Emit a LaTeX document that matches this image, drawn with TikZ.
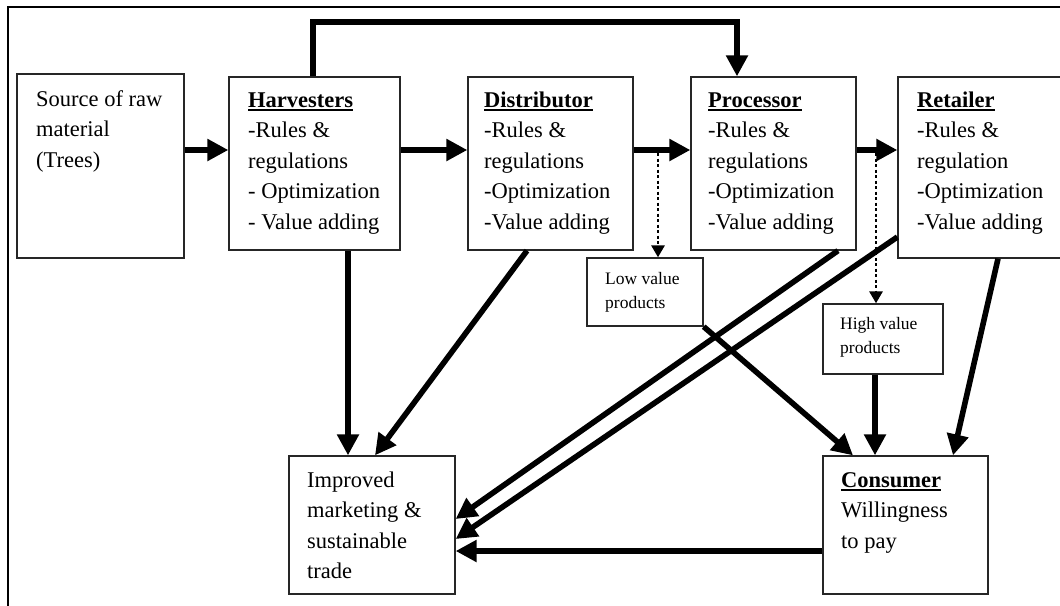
\documentclass[tikz,border=0pt]{standalone}
\usepackage{fontspec}
\setmainfont{Liberation Serif}
\usetikzlibrary{arrows.meta,fit}
\newcommand\myul[1]{\setbox0\hbox{#1}\rlap{\rule[-3.4pt]{\wd0}{1.8pt}}\box0}
\begin{document}
\begin{tikzpicture}[x=1pt,y=-1pt,
  box/.style={draw=black!85, line width=1.3pt, inner sep=0pt},
  txt/.style={anchor=north west, inner sep=0pt, align=left, font=\fontsize{22.5}{30.5}\selectfont},
  stxt/.style={anchor=north west, inner sep=0pt, align=left, font=\fontsize{17.5}{24}\selectfont},
  flow/.style={line width=5.6pt, -{Triangle[length=21pt,width=21pt]}},
  dots/.style={line width=2.8pt, dash pattern=on 3pt off 2.5pt, -{Triangle[length=12pt,width=13pt]}}]
\useasboundingbox (0,0) rectangle (1060,605);
\clip (0,0) rectangle (1060,605);
% outer frame
\draw[line width=2.5pt] (8,640) -- (8,7) -- (1080,7);
% boxes
\node[box, fit={(17,74) (184,258)}] (src) {};
\node[box, fit={(229,77) (400,250)}] (harv) {};
\node[box, fit={(468,77) (633,250)}] (dist) {};
\node[box, fit={(691,77) (856,250)}] (proc) {};
\node[box, fit={(898,77) (1080,258)}] (ret) {};
\node[box, fit={(587,258) (703,326)}] (low) {};
\node[box, fit={(823,304) (943,374)}] (high) {};
\node[box, fit={(289,456) (455,594)}] (impr) {};
\node[box, fit={(823,456) (988,594)}] (cons) {};
% texts
\node[txt] (tsrc) at (36,84.65) {\strut Source of raw\\material\\(Trees)};
\node[txt] (tharv) at (248,85.65) {\strut\myul{\textbf{Harvesters}}\\-Rules \&\\regulations\\- Optimization\\- Value adding};
\node[txt] (tdist) at (484,85.65) {\strut\myul{\textbf{Distributor}}\\-Rules \&\\regulations\\-Optimization\\-Value adding};
\node[txt] (tproc) at (708,85.65) {\strut\myul{\textbf{Processor}}\\-Rules \&\\regulations\\-Optimization\\-Value adding};
\node[txt] (tret) at (917,85.65) {\strut\myul{\textbf{Retailer}}\\-Rules \&\\regulation\\-Optimization\\-Value adding};
\node[stxt] (tlow) at (605,267.2) {\strut Low value\\products};
\node[stxt] (thigh) at (840,312.2) {\strut High value\\products};
\node[txt] (timpr) at (307,465.65) {\strut Improved\\marketing \&\\sustainable\\trade};
\node[txt] (tcons) at (841,465.65) {\strut\myul{\textbf{Consumer}}\\Willingness\\to pay};
% main chain
\draw[flow] (src.east |- 0,150) -- (harv.west |- 0,150);
\draw[flow] (harv.east |- 0,150) -- (dist.west |- 0,150);
\draw[flow] (dist.east |- 0,150) -- (proc.west |- 0,150);
\draw[flow] (proc.east |- 0,150) -- (ret.west |- 0,150);
% top loop
\draw[flow, line join=miter] (harv.north -| 313,0) -- (313,22) -| (proc.north -| 737,0);
% dotted branches
\coordinate (d1) at (658,153);
\coordinate (d2) at (876,153);
\draw[dots] (d1) -- (low.north -| d1);
\draw[dots] (d2) -- (high.north -| d2);
% to improved marketing
\draw[flow] (harv.south -| 348,0) -- (impr.north -| 348,0);
\draw[flow] (dist.south -| 527,0) -- (impr.north -| 375,0);
\draw[flow] (proc.south -| 838,0) -- (impr.east |- 0,519);
\draw[flow] (ret.west |- 0,237) -- (impr.east |- 0,539);
\draw[flow] (cons.west |- 0,551) -- (impr.east |- 0,551);
% to consumer
\draw[flow] (low.south east) -- (cons.north -| 853,0);
\draw[flow] (high.south -| 875,0) -- (cons.north -| 875,0);
\draw[flow] (ret.south -| 998,0) -- (cons.north -| 953,0);
\end{tikzpicture}
\end{document}
